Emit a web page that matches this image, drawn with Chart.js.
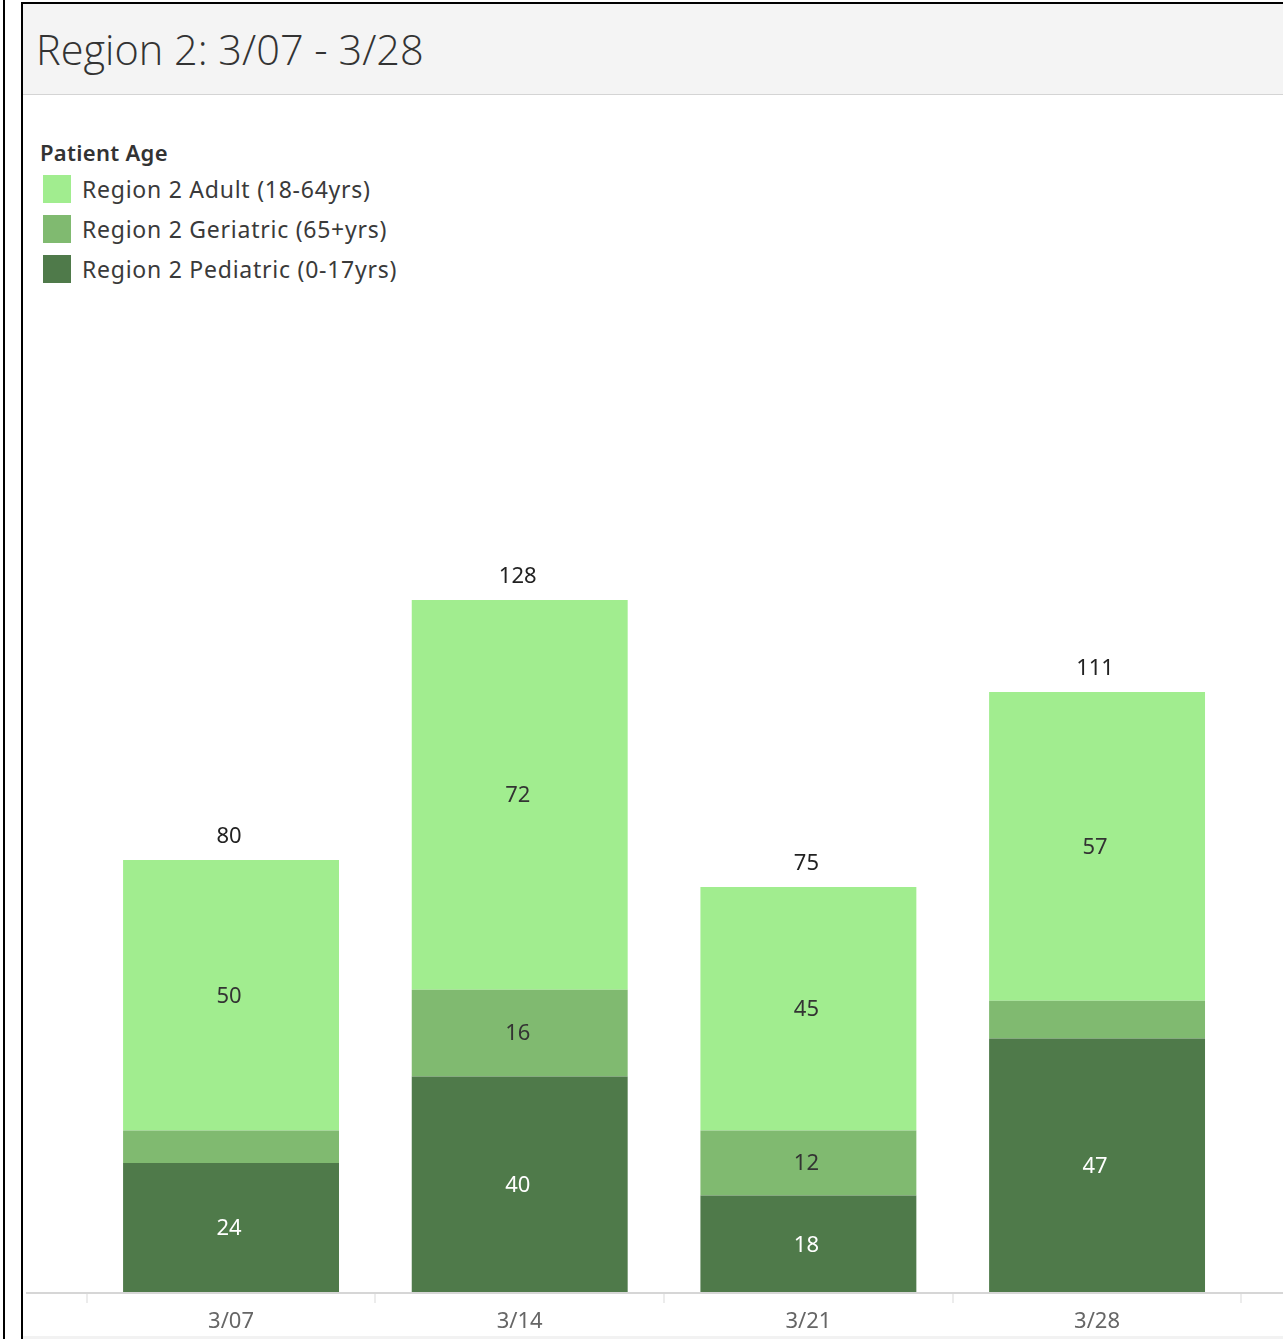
<!DOCTYPE html>
<html>
<head>
<meta charset="utf-8">
<script src="https://cdn.jsdelivr.net/npm/chart.js@4"></script>
<style>
  body { margin: 0; width: 1283px; height: 1339px; overflow: hidden; background: #fff; font-family: "Noto Sans", sans-serif; position: relative; }
  .edge { position: absolute; left: 3px; top: 0; width: 2px; height: 1339px; background: #000; }
  .box { position: absolute; left: 21px; top: 2px; width: 1300px; height: 1400px; border-left: 2px solid #000; border-top: 2px solid #000; }
  .header { position: absolute; left: 23px; top: 4px; width: 1260px; height: 90px; background: #f4f4f4; border-bottom: 1px solid #d4d4d4; }
  .header h1 { margin: 0; position: absolute; left: 13px; top: 17px; font-family: "Open Sans", sans-serif; font-size: 41.5px; font-weight: 300; color: #333; }
  .legend { position: absolute; left: 40px; top: 137px; color: #333; }
  .legend .title { font-size: 22px; font-weight: 600; margin-bottom: 2px; letter-spacing: 0.3px; }
  .legend .item { display: flex; align-items: center; height: 40px; font-size: 23px; letter-spacing: 0.75px; color: #3a3a3a; }
  .legend .swatch { width: 28px; height: 28px; margin-left: 3px; margin-right: 11px; }
  .axisline { position: absolute; left: 26px; top: 1292px; width: 1257px; height: 2px; background: #d6d6d6; }
  .foot { position: absolute; left: 23px; top: 1336px; width: 1260px; height: 3px; background: #f2f2f2; }
  #wrap { position: absolute; left: 23px; top: 300px; width: 1260px; height: 1036px; }
</style>
</head>
<body>
<div class="edge"></div>
<div class="box"></div>
<div class="header"><h1>Region 2: 3/07 - 3/28</h1></div>
<div class="legend" id="legend"></div>
<div id="wrap"><canvas id="chart"></canvas></div>
<div class="axisline"></div>
<div class="foot"></div>
<script>
// Data
const weeks = ['3/07', '3/14', '3/21', '3/28'];
const pediatric = [24, 40, 18, 47];
const geriatric = [6, 16, 12, 7];
const adult = [50, 72, 45, 57];

const seriesNames = ['Region 2 Pediatric (0-17yrs)', 'Region 2 Geriatric (65+yrs)', 'Region 2 Adult (18-64yrs)'];
const seriesColors = ['#4f7a4a', '#80ba70', '#a1ed8f'];
const labelColors = ['#ffffff', '#333333', '#333333'];

// Legend (top item first, like the stack)
const legend = document.getElementById('legend');
legend.innerHTML = '<div class="title">Patient Age</div>';
[2, 1, 0].forEach((i) => {
  const row = document.createElement('div');
  row.className = 'item';
  row.innerHTML = `<span class="swatch" style="background:${seriesColors[i]}"></span><span>${seriesNames[i]}</span>`;
  legend.appendChild(row);
});

// Labels inside segments and totals on top
const barLabels = {
  id: 'barLabels',
  afterDatasetsDraw(chart) {
    const ctx = chart.ctx;
    ctx.save();
    ctx.font = '22px "Noto Sans", sans-serif';
    ctx.textAlign = 'center';
    ctx.textBaseline = 'middle';
    chart.data.datasets.forEach((ds, di) => {
      const meta = chart.getDatasetMeta(di);
      meta.data.forEach((bar, idx) => {
        const h = Math.abs(bar.base - bar.y);
        if (h < 45) return;
        ctx.fillStyle = labelColors[di];
        ctx.fillText(ds.data[idx], bar.x - 2, (bar.y + bar.base) / 2 + 1);
      });
    });
    const topMeta = chart.getDatasetMeta(chart.data.datasets.length - 1);
    topMeta.data.forEach((bar, i) => {
      const total = pediatric[i] + geriatric[i] + adult[i];
      ctx.fillStyle = '#222';
      ctx.fillText(total, bar.x - 2, bar.y - 23);
    });
    ctx.restore();
  }
};

const seriesData = [pediatric, geriatric, adult];

const chart = new Chart(document.getElementById('chart'), {
  type: 'bar',
  data: {
    labels: weeks,
    datasets: seriesData.map((d, i) => ({
      label: seriesNames[i],
      data: d,
      backgroundColor: seriesColors[i],
      borderWidth: 0,
      barPercentage: 0.748,
      categoryPercentage: 1,
    })),
  },
  options: {
    responsive: true,
    maintainAspectRatio: false,
    animation: false,
    layout: { padding: { left: 63.7, right: 41.6, top: 18.5, bottom: 0 } },
    plugins: { legend: { display: false }, tooltip: { enabled: false } },
    scales: {
      x: {
        stacked: true,
        offset: true,
        border: { display: false },
        grid: { offset: true, drawOnChartArea: false, drawTicks: true, tickLength: 10, color: '#ececec', lineWidth: 2 },
        ticks: { color: '#666', font: { family: '"Noto Sans", sans-serif', size: 22 }, padding: 6 },
        afterFit(scale) { scale.height = 43; },
      },
      y: {
        stacked: true,
        display: false,
        min: 0,
        max: 180,
      },
    },
  },
  plugins: [barLabels],
});
</script>
</body>
</html>
